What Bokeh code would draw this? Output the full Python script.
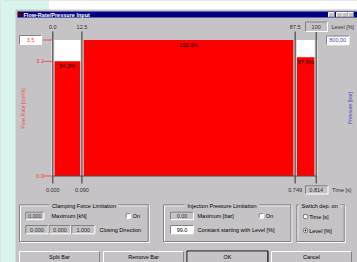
import math
from bokeh.plotting import figure
from bokeh.models import Range1d
from bokeh.embed import file_html
from bokeh.resources import INLINE
from bokeh.core.properties import value

# ---------------- data ----------------
level_ticks = [0.0, 12.5, 87.5, 100.0]
level_labels = ["0.0", "12.5", "87.5", "100"]
time_ticks = [0.000, 0.090, 0.749, 0.814]
time_labels = ["0.000", "0.090", "0.749", "0.814"]
bar_pct = [84.3, 100.0, 87.3]
bar_labels = ["84.3%", "100.0%", "87.3%"]
flow_ticks = [0.0, 84.3, 100.0]
flow_labels = ["0.0", "3.1", "3.5"]
pressure_max_label = "800.00"

FONT = "Liberation Sans"
GRAY = "#c6c3c6"
DARK = "#848284"
RED = "#ff0000"

# ---------------- canvas / scale calibration ----------------
W, H = 357, 262
OX, OY = 0, 0
T0_PX, T1_PX = 52.3, 315.7     # pixel of first/last time
Y0_PX, Y100_PX = 175.5, 39.5   # pixel of 0% / 100%

sx = (T1_PX - T0_PX) / (time_ticks[-1] - time_ticks[0])
x_start = time_ticks[0] - (T0_PX - OX) / sx
x_end = x_start + W / sx
sy = (Y0_PX - Y100_PX) / 100.0
y_end = (Y0_PX - OY) / sy
y_start = y_end - H / sy

p = figure(width=W, height=H, x_range=Range1d(x_start, x_end),
           y_range=Range1d(y_start, y_end), output_backend="svg",
           toolbar_location=None, min_border=0, x_axis_type=None,
           y_axis_type=None, outline_line_color=None,
           background_fill_color=GRAY, border_fill_color=GRAY)
p.extra_x_ranges = {"px": Range1d(OX, OX + W)}
p.extra_y_ranges = {"px": Range1d(OY + H, OY)}
PX = dict(x_range_name="px", y_range_name="px")


def rect(x0, y0, x1, y1, fill):
    p.quad(left=[x0], right=[x1], top=[y0], bottom=[y1], fill_color=fill,
           line_color=None, **PX)


def edge(x0, y0, x1, y1, sunken=True):
    tl, br = (DARK, "#ffffff") if sunken else ("#ffffff", DARK)
    p.multi_line(xs=[[x0, x0, x1]], ys=[[y1, y0, y0]], line_color=tl,
                 line_width=1, **PX)
    p.multi_line(xs=[[x0, x1, x1]], ys=[[y1, y1, y0]], line_color=br,
                 line_width=1, **PX)


def box(x0, y0, x1, y1, fill, sunken=True):
    rect(x0, y0, x1, y1, fill)
    edge(x0, y0, x1, y1, sunken)


def txt(x, y, s, color="#000000", size=5.5, align="left", bold=False,
        angle=0.0, xr="px", yr="px"):
    p.text(x=[x], y=[y], text=[s], text_color=color,
           text_font=value(FONT), text_font_size=f"{size}px",
           text_align=align, text_baseline="middle",
           text_font_style="bold" if bold else "normal", angle=angle,
           x_range_name=xr, y_range_name=yr)


def group(x0, y0, x1, y1, title, tx0, tx1):
    p.quad(left=[x0 + 1], right=[x1 + 1], top=[y0 + 1], bottom=[y1 + 1],
           fill_color=None, line_color="#ffffff", line_width=1, **PX)
    p.quad(left=[x0], right=[x1], top=[y0], bottom=[y1],
           fill_color=None, line_color=DARK, line_width=1, **PX)
    rect(tx0 - 2, y0 - 3, tx1 + 2, y0 + 3, GRAY)
    txt((tx0 + tx1) / 2, y0 + 0.8, title, align="center")


# ---------------- page background / window chrome ----------------
rect(0, 0, 15, 262, "#d8f4ec")
rect(0, 0, 48, 9, "#d8f4ec")
rect(48, 0, 357, 9, "#ffffff")
rect(17, 11, 357, 17, "#000080")
rect(17.5, 12, 21.5, 16, "#5a0000")
txt(23, 14.2, "Flow-Rate/Pressure Input", color="#ffffff", size=5.5, bold=True)
for bx0, bx1 in [(328, 334), (336, 341.5), (341.5, 347), (347.5, 353)]:
    box(bx0, 12, bx1, 16.5, GRAY, sunken=False)

# ---------------- chart (data coordinates) ----------------
p.quad(left=[time_ticks[0]], right=[time_ticks[-1]], bottom=[0], top=[100],
       fill_color="#ffffff", line_color=None)
p.quad(left=time_ticks[:-1], right=time_ticks[1:], bottom=0, top=bar_pct,
       fill_color=RED, line_color=None)
p.segment(x0=time_ticks, x1=time_ticks, y0=0, y1=100, line_color="#dcdcdc",
          line_width=3.5)
p.segment(x0=[time_ticks[0]], x1=[time_ticks[-1]], y0=[0], y1=[0],
          line_color="#4a4a4a", line_width=1.2)
p.segment(x0=time_ticks, x1=time_ticks, y0=31, y1=183, line_color="#4a4a4a",
          line_width=1.2, y_range_name="px")

# percentages inside bars
centers = [(a + b) / 2 for a, b in zip(time_ticks[:-1], time_ticks[1:])]
p.text(x=centers, y=bar_pct, text=bar_labels, text_color="#000000",
       text_font=value(FONT), text_font_size="5.5px", text_align="center",
       text_baseline="top", y_offset=1.5)

# top (level) labels
for t, lab in zip(time_ticks, level_labels):
    if lab == level_labels[-1]:
        box(305, 21.5, 327, 31, GRAY)
    p.text(x=[t], y=[26], text=[lab], text_color="#303030",
           text_font=value(FONT), text_font_size="5.5px", text_align="center",
           text_baseline="middle", y_range_name="px")
txt(331, 26, "Level [%]", color="#303030")

# bottom (time) labels
for t, lab in zip(time_ticks, time_labels):
    if lab == time_labels[-1]:
        box(305, 185.3, 327.5, 193.5, GRAY)
    p.text(x=[t], y=[189.4], text=[lab], text_color="#303030",
           text_font=value(FONT), text_font_size="5.5px", text_align="center",
           text_baseline="middle", y_range_name="px")
txt(331.5, 189.4, "Time [s]", color="#303030")

# left flow-rate ticks
p.segment(x0=42.7, x1=51.7, y0=flow_ticks, y1=flow_ticks, line_color="#f05050",
          line_width=1, x_range_name="px")
for v, lab in zip(flow_ticks, flow_labels):
    if v == max(flow_ticks):
        box(19, 35, 41, 44, "#ffffff")
        p.text(x=[30], y=[v], text=[lab], text_color="#f04040",
               text_font=value(FONT), text_font_size="5.5px",
               text_align="center", text_baseline="middle",
               x_range_name="px")
    else:
        p.text(x=[43.3], y=[v], text=[lab], text_color="#f04040",
               text_font=value(FONT), text_font_size="5.5px",
               text_align="right", text_baseline="middle",
               x_range_name="px")

# right pressure max box
box(326, 35.5, 348.5, 44.3, "#ffffff")
p.text(x=[337.2], y=[100], text=[pressure_max_label], text_color="#4848c8",
       text_font=value(FONT), text_font_size="5.5px", text_align="center",
       text_baseline="middle", x_range_name="px")

# axis titles
txt(22.5, 108, "Flow Rate [cm³/s]", color="#f04848", size=5.2, align="center",
    angle=math.pi / 2)
txt(349.5, 107.5, "Pressure [bar]", color="#5050c0", size=5.2, align="center",
    angle=math.pi / 2)

# ---------------- lower controls ----------------
group(19, 204.3, 147.7, 241, "Clamping Force Limitation", 51, 116)
box(25.3, 211.7, 43.3, 219.2, GRAY)
txt(34.3, 215.6, "0.000", color="#303030", align="center")
txt(51, 215.6, "Maximum [kN]")
box(125.7, 213.2, 129.8, 217.8, "#ffffff")
txt(132.2, 215.6, "On")
for bx0, bx1, lab in [(25.3, 47.7, "0.000"), (48.7, 70.2, "0.000"), (71.3, 94.3, "1.000")]:
    box(bx0, 225, bx1, 233.3, GRAY)
    txt((bx0 + bx1) / 2, 229.3, lab, color="#303030", align="center")
txt(99, 229.5, "Closing Direction")

group(163, 204.3, 290.3, 241, "Injection Pressure Limitation", 186, 257)
box(170, 211.7, 193, 219.2, GRAY)
txt(181.5, 215.6, "0.00", color="#303030", align="center")
txt(197, 215.6, "Maximum [bar]")
box(258.7, 213.2, 262.8, 217.8, "#ffffff")
txt(265.2, 215.6, "On")
box(170, 225, 193, 233.3, "#ffffff")
txt(181.5, 229.3, "99.0", align="center")
txt(197, 229.5, "Constant starting with Level [%]")

group(296.3, 204.3, 343.7, 241, "Switch dep. on", 300.3, 338)
p.scatter(x=[305, 305], y=[216, 230], size=4.6, fill_color="#ffffff",
          line_color="#606060", line_width=0.8, **PX)
p.scatter(x=[305], y=[230], size=1.8, fill_color="#000000", line_color=None, **PX)
txt(308.7, 216, "Time [s]")
txt(308.7, 230, "Level [%]")

# buttons
for bx0, bx1, lab in [(19, 99, "Split Bar"), (103, 183, "Remove Bar"),
                      (187, 267, "OK"), (271, 351, "Cancel")]:
    box(bx0, 251, bx1, 262, GRAY, sunken=False)
    txt((bx0 + bx1) / 2, 256.5, lab, align="center")
p.quad(left=[186.5], right=[267.5], top=[250.5], bottom=[262.5],
       fill_color=None, line_color="#000000", line_width=1, **PX)

open("out.html", "w").write(file_html(p, INLINE))
